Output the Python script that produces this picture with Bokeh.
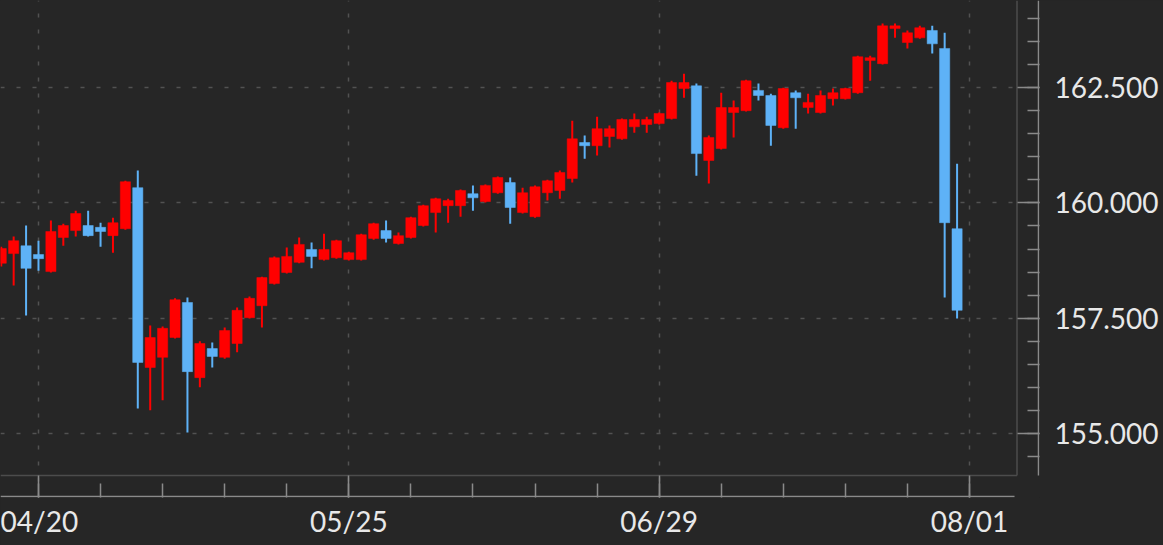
from bokeh.plotting import figure
from bokeh.models import FixedTicker, NumeralTickFormatter, ColumnDataSource, GlobalInlineStyleSheet
from bokeh.embed import file_html
from bokeh.resources import INLINE

# ---- data (daily candles) ----
opens = [158.69, 158.90, 159.07, 158.88, 158.51, 159.25, 159.40, 159.51, 159.47, 159.29,
         159.44, 160.33, 156.43, 156.65, 157.08, 157.84, 156.21, 156.84, 156.65, 156.95,
         157.51, 157.77, 158.25, 158.49, 158.71, 158.99, 158.77, 158.81, 158.77, 158.77,
         159.23, 159.40, 159.12, 159.25, 159.51, 159.79, 159.94, 159.94, 160.20, 160.03,
         160.22, 160.44, 159.79, 159.70, 160.22, 160.27, 160.53, 161.31, 161.24, 161.44,
         161.39, 161.65, 161.70, 161.72, 161.83, 162.48, 162.54, 160.92, 161.18, 161.96,
         162.00, 162.44, 162.33, 161.63, 162.39, 162.07, 161.96, 162.26, 162.26, 162.39,
         163.09, 163.02, 163.78, 163.48, 163.58, 163.74, 163.35, 159.44]
highs = [159.05, 159.27, 159.51, 159.18, 159.62, 159.55, 159.83, 159.83, 159.57, 159.68,
         160.48, 160.70, 157.34, 157.32, 157.93, 157.95, 157.00, 156.97, 157.30, 157.73,
         157.97, 158.40, 158.84, 159.03, 159.25, 159.14, 159.33, 159.20, 158.94, 159.33,
         159.57, 159.62, 159.36, 159.70, 159.96, 160.11, 160.09, 160.29, 160.38, 160.40,
         160.57, 160.55, 160.33, 160.38, 160.50, 160.70, 161.78, 161.46, 161.87, 161.68,
         161.83, 161.94, 161.87, 161.96, 162.65, 162.80, 162.59, 161.46, 162.39, 162.22,
         162.67, 162.59, 162.37, 162.50, 162.44, 162.37, 162.44, 162.48, 162.50, 163.19,
         163.19, 163.89, 163.89, 163.74, 163.84, 163.84, 163.69, 160.85]
lows = [158.62, 158.21, 157.56, 158.53, 158.49, 159.07, 159.27, 159.27, 159.05, 158.92,
        159.42, 155.54, 155.50, 155.72, 157.06, 155.02, 156.00, 156.43, 156.62, 156.76,
        157.49, 157.30, 158.23, 158.47, 158.69, 158.58, 158.75, 158.79, 158.75, 158.75,
        159.20, 159.14, 159.10, 159.23, 159.49, 159.36, 159.57, 159.70, 159.83, 160.01,
        160.20, 159.55, 159.77, 159.68, 160.05, 160.09, 160.44, 160.96, 161.03, 161.20,
        161.37, 161.52, 161.52, 161.70, 161.81, 162.28, 160.59, 160.42, 161.16, 161.42,
        161.98, 162.22, 161.24, 161.61, 161.61, 161.94, 161.94, 162.11, 162.24, 162.37,
        162.65, 163.00, 163.58, 163.35, 163.56, 163.24, 157.95, 157.49]
closes = [159.01, 159.18, 158.58, 158.79, 159.38, 159.51, 159.77, 159.29, 159.38, 159.57,
          160.46, 156.54, 157.08, 157.28, 157.90, 156.34, 156.95, 156.67, 157.23, 157.67,
          157.93, 158.38, 158.81, 158.84, 159.10, 158.84, 158.99, 159.18, 158.92, 159.31,
          159.55, 159.23, 159.29, 159.68, 159.94, 160.09, 160.05, 160.27, 160.11, 160.38,
          160.55, 159.90, 160.22, 160.35, 160.48, 160.66, 161.39, 161.24, 161.61, 161.61,
          161.81, 161.81, 161.81, 161.94, 162.61, 162.61, 161.07, 161.42, 162.07, 162.07,
          162.65, 162.33, 161.68, 162.48, 162.28, 162.18, 162.33, 162.39, 162.48, 163.17,
          163.15, 163.84, 163.84, 163.69, 163.80, 163.45, 159.57, 157.67]

tick_index = [3, 28, 53, 78]
tick_labels = ["04/20", "05/25", "06/29", "08/01"]
y_ticks = [155.0, 157.5, 160.0, 162.5]

# ---- style ----
BG = "#262626"
UP = "#ff0000"
DOWN = "#5eb2f7"
AXIS = "#8a8a8a"
BORDER = "#4c4c4c"
GRID = "#525252"
TEXT = "#e8e8e8"
FONT = "Lato"

X0, X1 = -0.06, 83.64
Y0, Y1 = 153.61, 164.39
W, H = 1163, 545
RB, BB = 124, 48
px_x = (W - RB) / (X1 - X0)
px_y = (H - BB) / (Y1 - Y0)

p = figure(width=W, height=H, x_range=(X0, X1), y_range=(Y0, Y1),
           output_backend="svg", toolbar_location=None, y_axis_location="right",
           min_border_left=0, min_border_top=0, min_border_right=RB, min_border_bottom=BB,
           background_fill_color=BG, border_fill_color=BG, outline_line_color=None)
p.stylesheets = [GlobalInlineStyleSheet(css="html,body{margin:0;padding:0;background:#262626;overflow:hidden}")]

idx = list(range(len(opens)))
def make_src(sel):
    return ColumnDataSource(dict(
        x=[i for i in idx if sel(i)],
        hi=[highs[i] for i in idx if sel(i)],
        lo=[lows[i] for i in idx if sel(i)],
        top=[max(opens[i], closes[i]) for i in idx if sel(i)],
        bot=[min(opens[i], closes[i]) for i in idx if sel(i)],
    ))

up_src = make_src(lambda i: closes[i] >= opens[i])
dn_src = make_src(lambda i: closes[i] < opens[i])
for src, col in ((up_src, UP), (dn_src, DOWN)):
    p.segment(x0="x", y0="hi", x1="x", y1="lo", source=src, line_color=col, line_width=2)
    p.vbar(x="x", width=0.82, top="top", bottom="bot", source=src,
           fill_color=col, line_color=col, line_width=0.5)

# frame border (22px in from the axes) and axis lines
bx = X1 - 22.5 / px_x
by = Y0 + 22.0 / px_y
p.segment(x0=[X0, bx], y0=[by, by], x1=[bx, bx], y1=[by, Y1], line_color=BORDER, line_width=1.5)
p.segment(x0=[X0, X1 - 1.0 / px_x], y0=[Y0 + 1.0 / px_y, by],
          x1=[bx - 0.2, X1 - 1.0 / px_x], y1=[Y0 + 1.0 / px_y, Y1],
          line_color=AXIS, line_width=1.5)

# x axis
xt = FixedTicker(ticks=tick_index, minor_ticks=list(range(tick_index[0], tick_index[-1] + 1, 5)))
p.xaxis.ticker = xt
p.xaxis.major_label_overrides = {t: l for t, l in zip(tick_index, tick_labels)}
p.xaxis.axis_line_color = None
p.xaxis.major_tick_in = 22
p.xaxis.major_tick_out = 0
p.xaxis.minor_tick_in = 14
p.xaxis.minor_tick_out = 0
p.xaxis.major_tick_line_color = AXIS
p.xaxis.minor_tick_line_color = AXIS
p.xaxis.major_tick_line_width = 1.5
p.xaxis.minor_tick_line_width = 1.5
p.xaxis.major_label_standoff = 6
p.xaxis.major_label_text_font = FONT
p.xaxis.major_label_text_font_size = "28px"
p.xaxis.major_label_text_color = TEXT

# y axis
yt = FixedTicker(ticks=y_ticks, minor_ticks=[154.5 + 0.5 * k for k in range(20)])
p.yaxis.ticker = yt
p.yaxis.formatter = NumeralTickFormatter(format="0.000")
p.yaxis.axis_line_color = None
p.yaxis.major_tick_in = 22
p.yaxis.major_tick_out = 0
p.yaxis.minor_tick_in = 12
p.yaxis.minor_tick_out = 0
p.yaxis.major_tick_line_color = AXIS
p.yaxis.minor_tick_line_color = AXIS
p.yaxis.major_tick_line_width = 1.5
p.yaxis.minor_tick_line_width = 1.5
p.yaxis.major_label_standoff = 15
p.yaxis.major_label_text_font = FONT
p.yaxis.major_label_text_font_size = "28px"
p.yaxis.major_label_text_color = TEXT

# grid
p.xgrid.ticker = xt
p.ygrid.ticker = yt
for g in (p.xgrid, p.ygrid):
    g.grid_line_color = GRID
    g.grid_line_dash = "4 12"
    g.grid_line_width = 1.5

open("out.html", "w").write(file_html(p, INLINE))
